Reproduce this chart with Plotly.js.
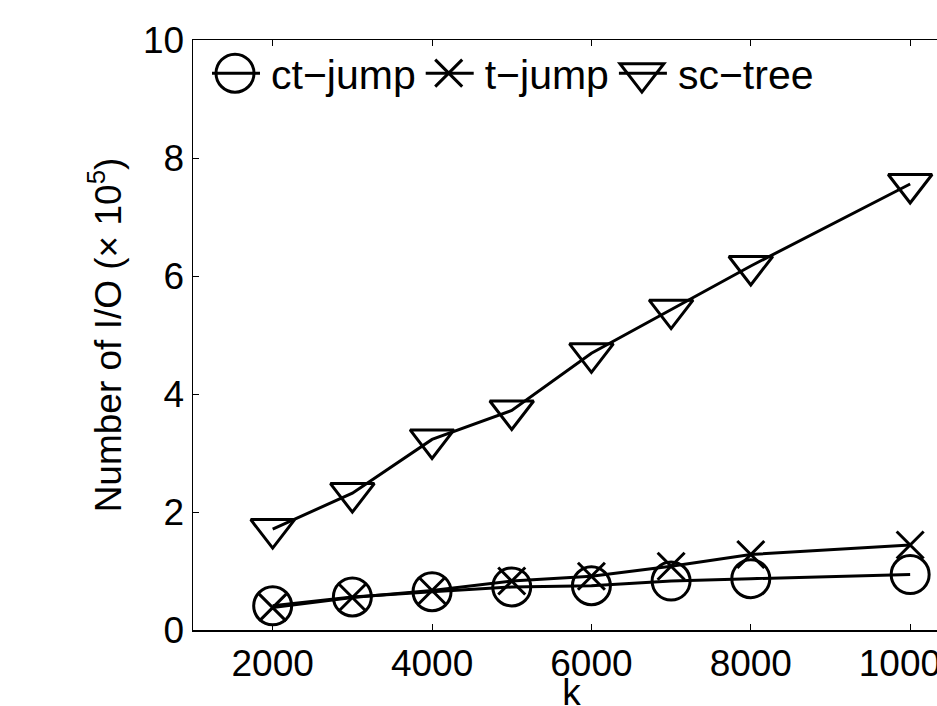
<!DOCTYPE html>
<html>
<head>
<meta charset="utf-8">
<script src="https://cdn.plot.ly/plotly-3.0.1.min.js"></script>
<style>
html, body { margin: 0; padding: 0; overflow: hidden; background: #fff; width: 937px; height: 706px; }
#chart { width: 1000px; height: 706px; }
</style>
</head>
<body>
<div id="chart"></div>
<script>
const kValues = [2000, 3000, 4000, 5000, 6000, 7000, 8000, 10000];
const ctJump = [0.41, 0.56, 0.65, 0.73, 0.75, 0.83, 0.87, 0.94];
const tJump = [0.38, 0.55, 0.67, 0.83, 0.91, 1.08, 1.28, 1.44];
const scTree = [1.71, 2.32, 3.23, 3.72, 4.69, 5.43, 6.17, 7.56];
const seriesNames = ['ct\u2212jump', 't\u2212jump', 'sc\u2212tree'];
const xTicks = [2000, 4000, 6000, 8000, 10000];
const yTicks = [0, 2, 4, 6, 8, 10];

const FONT = 'Liberation Sans, Arial, Helvetica, sans-serif';
const lineStyle = { color: '#000', width: 3 };
const markerSizes = [38, 27, 38];

const traces = [
  {
    x: kValues, y: ctJump, name: seriesNames[0], type: 'scatter', mode: 'lines+markers',
    line: lineStyle,
    marker: { symbol: 'circle-open', size: markerSizes[0], color: '#000', line: { color: '#000', width: 3 } }
  },
  {
    x: kValues, y: tJump, name: seriesNames[1], type: 'scatter', mode: 'lines+markers',
    line: lineStyle,
    marker: { symbol: 'x-thin', size: markerSizes[1], color: '#000', line: { color: '#000', width: 3 } }
  },
  {
    x: kValues, y: scTree, name: seriesNames[2], type: 'scatter', mode: 'lines+markers',
    line: lineStyle,
    marker: { symbol: 'triangle-down-open', size: markerSizes[2], color: '#000', line: { color: '#000', width: 3 } }
  }
];

const axisCommon = {
  showgrid: false, zeroline: false, showline: true, linecolor: '#000', linewidth: 1.5,
  mirror: 'ticks', ticks: 'inside', ticklen: 6, tickwidth: 1, tickcolor: '#000',
  tickfont: { family: FONT, size: 37, color: '#000' }
};

const layout = {
  width: 1000, height: 706,
  margin: { l: 193, r: 50, t: 40, b: 76 },
  paper_bgcolor: '#fff', plot_bgcolor: '#fff',
  font: { family: FONT, color: '#000' },
  showlegend: true,
  legend: {
    orientation: 'h', x: 0.0185, y: 1, xanchor: 'left', yanchor: 'top',
    bgcolor: 'rgba(0,0,0,0)', borderwidth: 0,
    font: { family: FONT, size: 41, color: '#000' },
    itemwidth: 54, tracegroupgap: 0
  },
  xaxis: Object.assign({}, axisCommon, {
    range: [1000, 10500], tickmode: 'array', tickvals: xTicks, ticktext: xTicks.map(String),
    automargin: false,
    title: { text: 'k', font: { family: FONT, size: 37, color: '#000' } }
  }),
  yaxis: Object.assign({}, axisCommon, {
    range: [0, 10], tickmode: 'array', tickvals: yTicks, ticktext: yTicks.map(String),
    automargin: false,
    title: { text: 'Number of I/O (\u00d7 10<sup>5</sup>)', font: { family: FONT, size: 37, color: '#000' }, standoff: 10 }
  })
};

Plotly.newPlot('chart', traces, layout, { displayModeBar: false, staticPlot: true }).then(function (gd) {
  // Enlarge the legend symbols to match the size of the markers in the plot
  // (Plotly caps legend marker size at 16px).
  const items = gd.querySelectorAll('.legend .traces');
  items.forEach(function (item, i) {
    item.querySelectorAll('.legendlines path, path.js-line').forEach(function (p) {
      p.setAttribute('d', 'M5,0h48');
    });
    const scale = markerSizes[i] / 16;
    item.querySelectorAll('.legendpoints path.scatterpts').forEach(function (p) {
      p.setAttribute('transform', 'translate(28,0) scale(' + scale + ')');
      p.style.vectorEffect = 'non-scaling-stroke';
      p.style.strokeWidth = '3px';
    });
  });
  // Nudge the x-axis title slightly lower, as in the reference (partly cut by the bottom edge).
  const xt = gd.querySelector('.xtitle');
  if (xt) {
    const prev = xt.getAttribute('transform') || '';
    xt.setAttribute('transform', prev + ' translate(0,7)');
  }
});
</script>
</body>
</html>
